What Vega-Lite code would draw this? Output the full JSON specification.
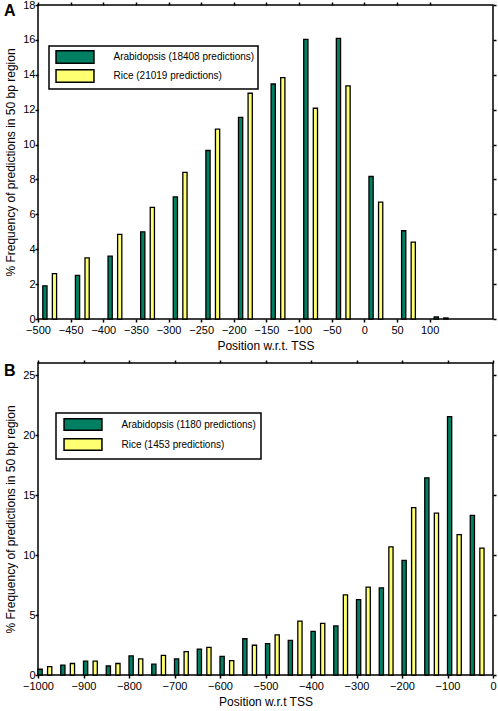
{
  "$schema": "https://vega.github.io/schema/vega-lite/v6.json",
  "padding": {"left": 3, "top": -2, "right": 5, "bottom": 5},
  "background": "white",
  "config": {
    "font": "Liberation Sans",
    "view": {"stroke": "black", "strokeWidth": 1.5, "fill": null},
    "axis": {"domain": false, "grid": false, "labelColor": "black", "labelFontSize": 11, "labelOverlap": false, "labelFlush": false, "labelBound": false, "titleFontSize": 12, "titleFontWeight": "normal", "titleColor": "black"},
    "axisX": {"labelPadding": 2, "format": "d"},
    "axisY": {"labelPadding": 0},
    "legend": {"strokeColor": "black", "strokeWidth": 1.5, "fillColor": "white", "labelFontSize": 10, "labelColor": "black", "symbolStrokeColor": "black", "symbolStrokeWidth": 1.5, "symbolOpacity": 1}
  },
  "datasets": {
    "A": [
      {"pos": -500, "series": "Arabidopsis (18408 predictions)", "value": 1.9},
      {"pos": -500, "series": "Rice (21019 predictions)", "value": 2.6},
      {"pos": -450, "series": "Arabidopsis (18408 predictions)", "value": 2.5},
      {"pos": -450, "series": "Rice (21019 predictions)", "value": 3.5},
      {"pos": -400, "series": "Arabidopsis (18408 predictions)", "value": 3.6},
      {"pos": -400, "series": "Rice (21019 predictions)", "value": 4.85},
      {"pos": -350, "series": "Arabidopsis (18408 predictions)", "value": 5.0},
      {"pos": -350, "series": "Rice (21019 predictions)", "value": 6.4},
      {"pos": -300, "series": "Arabidopsis (18408 predictions)", "value": 7.0},
      {"pos": -300, "series": "Rice (21019 predictions)", "value": 8.4},
      {"pos": -250, "series": "Arabidopsis (18408 predictions)", "value": 9.66},
      {"pos": -250, "series": "Rice (21019 predictions)", "value": 10.88},
      {"pos": -200, "series": "Arabidopsis (18408 predictions)", "value": 11.56},
      {"pos": -200, "series": "Rice (21019 predictions)", "value": 12.94},
      {"pos": -150, "series": "Arabidopsis (18408 predictions)", "value": 13.47},
      {"pos": -150, "series": "Rice (21019 predictions)", "value": 13.84},
      {"pos": -100, "series": "Arabidopsis (18408 predictions)", "value": 16.03},
      {"pos": -100, "series": "Rice (21019 predictions)", "value": 12.08},
      {"pos": -50, "series": "Arabidopsis (18408 predictions)", "value": 16.09},
      {"pos": -50, "series": "Rice (21019 predictions)", "value": 13.36},
      {"pos": 0, "series": "Arabidopsis (18408 predictions)", "value": 8.17},
      {"pos": 0, "series": "Rice (21019 predictions)", "value": 6.7},
      {"pos": 50, "series": "Arabidopsis (18408 predictions)", "value": 5.06},
      {"pos": 50, "series": "Rice (21019 predictions)", "value": 4.41},
      {"pos": 100, "series": "Arabidopsis (18408 predictions)", "value": 0.12},
      {"pos": 100, "series": "Rice (21019 predictions)", "value": 0.06}
    ],
    "B": [
      {"pos": -1000, "series": "Arabidopsis (1180 predictions)", "value": 0.48},
      {"pos": -1000, "series": "Rice (1453 predictions)", "value": 0.69},
      {"pos": -950, "series": "Arabidopsis (1180 predictions)", "value": 0.83},
      {"pos": -950, "series": "Rice (1453 predictions)", "value": 0.96},
      {"pos": -900, "series": "Arabidopsis (1180 predictions)", "value": 1.15},
      {"pos": -900, "series": "Rice (1453 predictions)", "value": 1.15},
      {"pos": -850, "series": "Arabidopsis (1180 predictions)", "value": 0.75},
      {"pos": -850, "series": "Rice (1453 predictions)", "value": 0.96},
      {"pos": -800, "series": "Arabidopsis (1180 predictions)", "value": 1.6},
      {"pos": -800, "series": "Rice (1453 predictions)", "value": 1.34},
      {"pos": -750, "series": "Arabidopsis (1180 predictions)", "value": 0.9},
      {"pos": -750, "series": "Rice (1453 predictions)", "value": 1.63},
      {"pos": -700, "series": "Arabidopsis (1180 predictions)", "value": 1.34},
      {"pos": -700, "series": "Rice (1453 predictions)", "value": 1.95},
      {"pos": -650, "series": "Arabidopsis (1180 predictions)", "value": 2.16},
      {"pos": -650, "series": "Rice (1453 predictions)", "value": 2.3},
      {"pos": -600, "series": "Arabidopsis (1180 predictions)", "value": 1.55},
      {"pos": -600, "series": "Rice (1453 predictions)", "value": 1.2},
      {"pos": -550, "series": "Arabidopsis (1180 predictions)", "value": 3.02},
      {"pos": -550, "series": "Rice (1453 predictions)", "value": 2.48},
      {"pos": -500, "series": "Arabidopsis (1180 predictions)", "value": 2.62},
      {"pos": -500, "series": "Rice (1453 predictions)", "value": 3.34},
      {"pos": -450, "series": "Arabidopsis (1180 predictions)", "value": 2.88},
      {"pos": -450, "series": "Rice (1453 predictions)", "value": 4.49},
      {"pos": -400, "series": "Arabidopsis (1180 predictions)", "value": 3.63},
      {"pos": -400, "series": "Rice (1453 predictions)", "value": 4.3},
      {"pos": -350, "series": "Arabidopsis (1180 predictions)", "value": 4.09},
      {"pos": -350, "series": "Rice (1453 predictions)", "value": 6.68},
      {"pos": -300, "series": "Arabidopsis (1180 predictions)", "value": 6.28},
      {"pos": -300, "series": "Rice (1453 predictions)", "value": 7.32},
      {"pos": -250, "series": "Arabidopsis (1180 predictions)", "value": 7.26},
      {"pos": -250, "series": "Rice (1453 predictions)", "value": 10.68},
      {"pos": -200, "series": "Arabidopsis (1180 predictions)", "value": 9.56},
      {"pos": -200, "series": "Rice (1453 predictions)", "value": 13.94},
      {"pos": -150, "series": "Arabidopsis (1180 predictions)", "value": 16.43},
      {"pos": -150, "series": "Rice (1453 predictions)", "value": 13.49},
      {"pos": -100, "series": "Arabidopsis (1180 predictions)", "value": 21.53},
      {"pos": -100, "series": "Rice (1453 predictions)", "value": 11.7},
      {"pos": -50, "series": "Arabidopsis (1180 predictions)", "value": 13.3},
      {"pos": -50, "series": "Rice (1453 predictions)", "value": 10.58}
    ]
  },
  "spacing": 6,
  "resolve": {"scale": {"color": "independent"}},
  "vconcat": [
    {
      "title": {"text": "A", "anchor": "start", "frame": "group", "fontSize": 16, "fontWeight": "bold", "color": "black", "dx": -34, "dy": 20, "offset": 0},
      "width": 455,
      "height": 314,
      "data": {"name": "A"},
      "layer": [
        {
          "mark": {"type": "bar", "stroke": "black", "strokeWidth": 1.3},
          "encoding": {
            "x": {"field": "pos", "type": "ordinal", "scale": {"domain": [-500, -450, -400, -350, -300, -250, -200, -150, -100, -50, 0, 50, 100], "paddingInner": 0.43, "paddingOuter": 0.69, "align": 0, "round": false}, "axis": null},
            "xOffset": {"field": "series", "type": "nominal", "scale": {"paddingInner": 0.12}},
            "y": {"field": "value", "type": "quantitative", "scale": {"domain": [0, 18]}, "axis": {"values": [0, 2, 4, 6, 8, 10, 12, 14, 16, 18], "tickSize": 3, "tickColor": "black", "tickWidth": 1.5, "title": "% Frequency of predictions in 50 bp region", "titlePadding": 5}},
            "color": {"field": "series", "type": "nominal", "scale": {"range": ["#007f62", "#ffff72"]}, "legend": {"orient": "none", "legendX": 11, "legendY": 41, "title": null, "padding": 3.5, "rowPadding": 0, "symbolType": "M-3,-1H3V1H-3Z", "symbolSize": 160, "symbolOffset": 15, "labelOffset": 31}}
          }
        },
        {
          "mark": {"type": "point", "opacity": 0},
          "encoding": {
            "x": {"field": "pos", "type": "quantitative", "scale": {"domain": [-500, 197], "nice": false, "zero": false}, "axis": {"values": [-500, -450, -400, -350, -300, -250, -200, -150, -100, -50, 0, 50, 100], "tickSize": 3, "tickColor": "black", "tickWidth": 1.5, "title": "Position w.r.t. TSS", "titlePadding": 5}},
            "y": {"field": "value", "type": "quantitative", "axis": {"orient": "right", "labels": false, "title": null, "tickSize": 3, "tickColor": "black", "tickWidth": 1.5, "values": [0, 2, 4, 6, 8, 10, 12, 14, 16, 18]}}
          }
        },
        {
          "mark": {"type": "point", "opacity": 0},
          "encoding": {
            "x": {"field": "pos", "type": "quantitative", "scale": {"domain": [-500, 197], "nice": false, "zero": false}, "axis": {"orient": "top", "labels": false, "title": null, "tickSize": 3, "tickColor": "black", "tickWidth": 1.5, "values": [-500, -450, -400, -350, -300, -250, -200, -150, -100, -50, 0, 50, 100]}}
          }
        }
      ],
      "resolve": {"scale": {"x": "independent"}, "axis": {"x": "independent", "y": "independent"}}
    },
    {
      "title": {"text": "B", "anchor": "start", "frame": "group", "fontSize": 16, "fontWeight": "bold", "color": "black", "dx": -34, "dy": 20, "offset": 0},
      "width": 455,
      "height": 312,
      "data": {"name": "B"},
      "layer": [
        {
          "mark": {"type": "bar", "stroke": "black", "strokeWidth": 1.3},
          "encoding": {
            "x": {"field": "pos", "type": "ordinal", "scale": {"domain": [-1000, -950, -900, -850, -800, -750, -700, -650, -600, -550, -500, -450, -400, -350, -300, -250, -200, -150, -100, -50], "paddingInner": 0.43, "paddingOuter": 0.215, "align": 0, "round": false}, "axis": null},
            "xOffset": {"field": "series", "type": "nominal", "scale": {"paddingInner": 0.12}},
            "y": {"field": "value", "type": "quantitative", "scale": {"domain": [0, 25]}, "axis": {"values": [0, 5, 10, 15, 20, 25], "tickSize": 3, "tickColor": "black", "tickWidth": 1.5, "title": "% Frequency of predictions in 50 bp region", "titlePadding": 5}},
            "color": {"field": "series", "type": "nominal", "scale": {"range": ["#007f62", "#ffff72"]}, "legend": {"orient": "none", "legendX": 18, "legendY": 50, "title": null, "padding": 5, "rowPadding": 1, "symbolType": "M-3.3,-1H3.3V1H-3.3Z", "symbolSize": 132, "symbolOffset": 15.5, "labelOffset": 32}}
          }
        },
        {
          "mark": {"type": "point", "opacity": 0},
          "encoding": {
            "x": {"field": "pos", "type": "quantitative", "scale": {"domain": [-1000, 0], "nice": false, "zero": false}, "axis": {"values": [-1000, -900, -800, -700, -600, -500, -400, -300, -200, -100, 0], "tickSize": 3, "tickColor": "black", "tickWidth": 1.5, "title": "Position w.r.t TSS", "titlePadding": 5}},
            "y": {"field": "value", "type": "quantitative", "axis": {"orient": "right", "labels": false, "title": null, "tickSize": 3, "tickColor": "black", "tickWidth": 1.5, "values": [0, 5, 10, 15, 20, 25]}}
          }
        },
        {
          "mark": {"type": "point", "opacity": 0},
          "encoding": {
            "x": {"field": "pos", "type": "quantitative", "scale": {"domain": [-1000, 0], "nice": false, "zero": false}, "axis": {"orient": "top", "labels": false, "title": null, "tickSize": 3, "tickColor": "black", "tickWidth": 1.5, "values": [-1000, -900, -800, -700, -600, -500, -400, -300, -200, -100, 0]}}
          }
        }
      ],
      "resolve": {"scale": {"x": "independent"}, "axis": {"x": "independent", "y": "independent"}}
    }
  ]
}
